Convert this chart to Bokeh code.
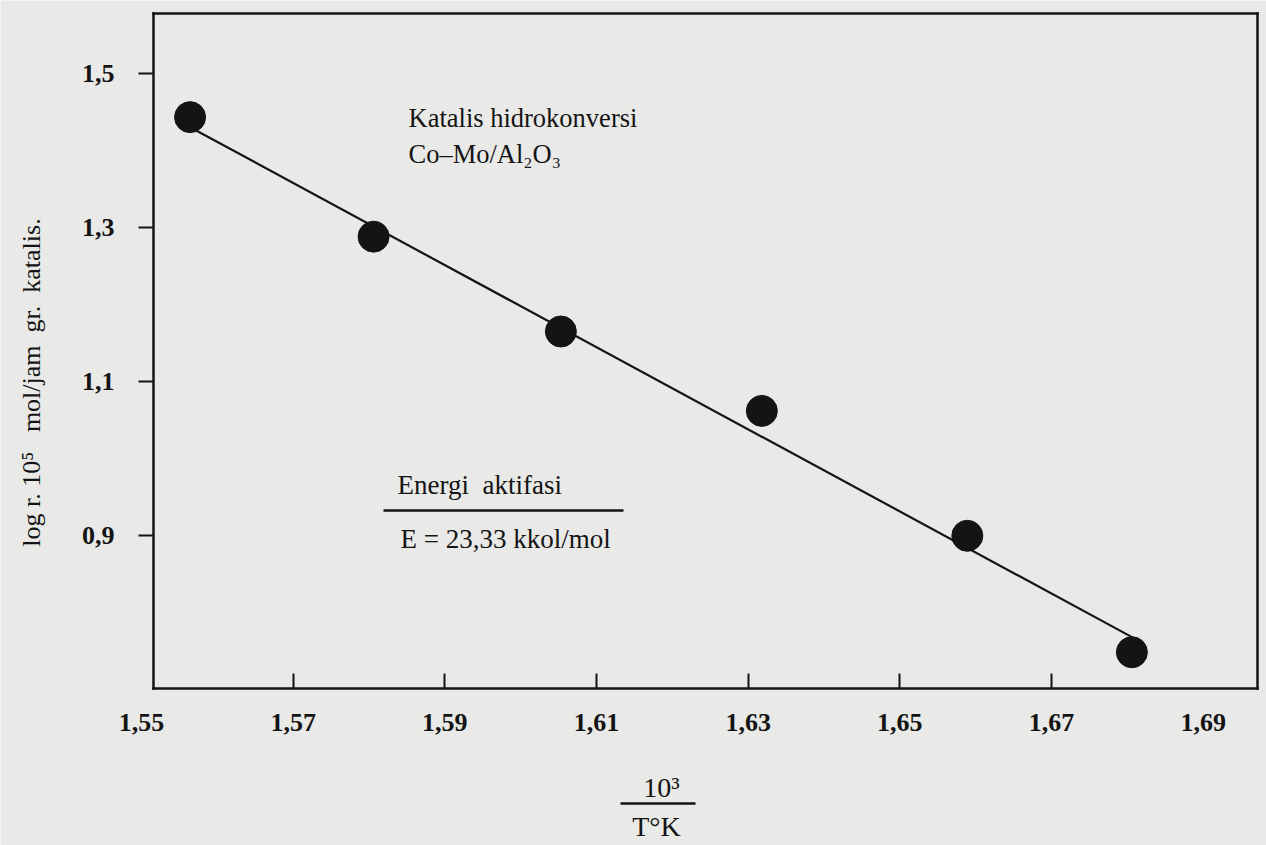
import math
from bokeh.plotting import figure
from bokeh.models import (Range1d, FixedTicker, LinearAxis, CustomJSTickFormatter,
                          Label, Arrow)
from bokeh.embed import file_html
from bokeh.resources import INLINE

# ---------------- data ----------------
inv_T = [1.5564, 1.5806, 1.6053, 1.6318, 1.6589, 1.6806]      # 10^3 / T (K)
log_r = [1.443, 1.288, 1.165, 1.062, 0.900, 0.749]            # log r . 10^5
fit_x = [1.5564, 1.6811]                                      # drawn straight line
fit_y = [1.430, 0.766]

x_tick_vals = [1.55, 1.57, 1.59, 1.61, 1.63, 1.65, 1.67, 1.69]
x_tick_labels = ["1,55", "1,57", "1,59", "1,61", "1,63", "1,65", "1,67", "1,69"]
x_mark_vals = [1.57, 1.59, 1.61, 1.63, 1.65, 1.67]
y_tick_vals = [0.9, 1.1, 1.3, 1.5]
y_tick_labels = ["0,9", "1,1", "1,3", "1,5"]

# ---------------- layout / styling ----------------
INK = "#141414"
PAPER = "#e9e9e7"
FONT = "Liberation Serif"
W, H = 1266, 845
XPX, YPX = 7583.0, 771.0          # pixels per data unit
X0 = 1.551577                     # data value at the box's left edge (px 153)
Y1 = 1.57743                      # data value at the box's top edge (px 13)
X1 = X0 + 1104 / XPX              # box right edge (px 1257)
Y0 = Y1 - 675 / YPX               # box bottom edge (px 688)


def X(px):
    return X0 + (px - 153) / XPX


def Y(py):
    return Y1 - (py - 13) / YPX


p = figure(width=W, height=H, output_backend="svg", toolbar_location=None,
           x_range=Range1d(X(0), X(W)), y_range=Range1d(Y(H), Y(0)),
           x_axis_location=None, y_axis_location=None, min_border=0)
p.background_fill_color = PAPER
p.border_fill_color = PAPER
p.outline_line_color = None
p.grid.visible = False

label_js = """
let best = 0;
for (let i = 0; i < vals.length; i++) {
  if (Math.abs(vals[i] - tick) < Math.abs(vals[best] - tick)) { best = i; }
}
return labs[best];
"""


def style_line(ax):
    ax.axis_line_color = INK
    ax.axis_line_width = 2.5
    ax.axis_line_cap = "square"
    ax.major_tick_line_color = INK
    ax.major_tick_line_width = 2
    ax.minor_tick_line_color = None


# left axis (box left side) with ticks and labels
ya = LinearAxis(fixed_location=X0, bounds=(Y0, Y1), ticker=FixedTicker(ticks=y_tick_vals),
                formatter=CustomJSTickFormatter(args=dict(vals=y_tick_vals, labs=y_tick_labels),
                                                code=label_js))
style_line(ya)
ya.major_tick_out = 15
ya.major_tick_in = 0
ya.major_label_standoff = 24
ya.major_label_text_font = FONT
ya.major_label_text_font_size = "26px"
ya.major_label_text_font_style = "bold"
ya.major_label_text_color = INK
p.add_layout(ya, "left")

# bottom axis (box bottom side) with inward tick marks
xa = LinearAxis(fixed_location=Y0, bounds=(X0, X1), ticker=FixedTicker(ticks=x_mark_vals),
                formatter=CustomJSTickFormatter(code="return ''"))
style_line(xa)
xa.major_tick_in = 15
xa.major_tick_out = 0
p.add_layout(xa, "below")

# bottom labels (1,55 ... 1,69)
xl = LinearAxis(fixed_location=Y0, ticker=FixedTicker(ticks=x_tick_vals),
                formatter=CustomJSTickFormatter(args=dict(vals=x_tick_vals, labs=x_tick_labels),
                                                code=label_js))
xl.axis_line_color = None
xl.major_tick_line_color = None
xl.minor_tick_line_color = None
xl.major_tick_in = 0
xl.major_tick_out = 0
xl.major_label_standoff = 25
xl.major_label_text_font = FONT
xl.major_label_text_font_size = "26px"
xl.major_label_text_font_style = "bold"
xl.major_label_text_color = INK
p.add_layout(xl, "below")

# top and right sides of the box
ta = LinearAxis(fixed_location=Y1, bounds=(X0, X1), ticker=FixedTicker(ticks=[]))
style_line(ta)
p.add_layout(ta, "above")
ra = LinearAxis(fixed_location=X1, bounds=(Y0, Y1), ticker=FixedTicker(ticks=[]))
style_line(ra)
p.add_layout(ra, "right")

# data marks
p.line(fit_x, fit_y, line_color=INK, line_width=2.2)
p.scatter(inv_T, log_r, size=31, fill_color=INK, line_color=INK)


# annotations
def txt(x, y, s, size="26.5px", align="left", base="alphabetic", angle=0.0, style="normal"):
    p.add_layout(Label(x=x, y=y, text=s, text_align=align, text_baseline=base, angle=angle,
                       text_font=FONT, text_font_size=size, text_font_style=style,
                       text_color=INK))


def rule(xa_, xb_, y_):
    p.add_layout(Arrow(x_start=xa_, y_start=y_, x_end=xb_, y_end=y_,
                       start=None, end=None, line_color=INK, line_width=2.5))


txt(X(408), Y(117), "Katalis hidrokonversi")
txt(X(408), Y(153), "Co\u2013Mo/Al\u2082O\u2083")
txt(X(397), Y(484), "Energi\u00a0 aktifasi", size="27px")
rule(X(383), X(623), Y(510))
txt(X(400), Y(538), "E = 23,33 kkol/mol", size="27px")

# axis titles
txt(X(31), Y(382), "log r. 10\u2075\u00a0\u00a0 mol/jam\u00a0 gr.\u00a0 katalis.", size="26px",
    align="center", base="middle", angle=math.pi / 2)
txt(X(661), Y(787), "10\u00b3", size="28px", align="center")
rule(X(620), X(695), Y(803))
txt(X(656), Y(826), "T\u00b0K", size="28px", align="center")

open("out.html", "w").write(file_html(p, INLINE))
